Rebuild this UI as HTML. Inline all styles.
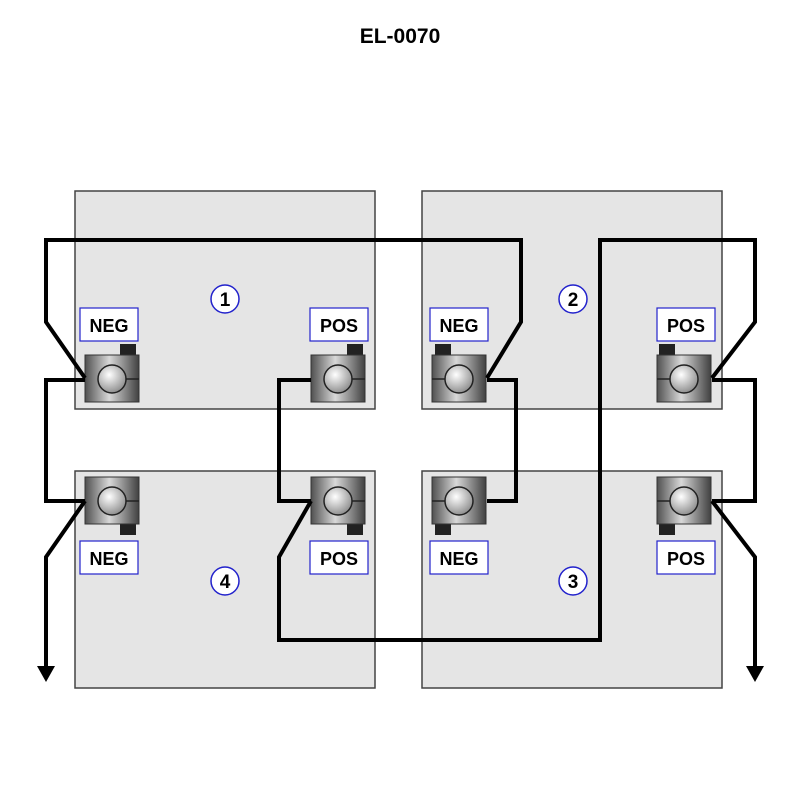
<!DOCTYPE html>
<html><head><style>body{margin:0;background:#fff}svg{display:block}</style></head><body>
<svg width="800" height="792" viewBox="0 0 800 792" xmlns="http://www.w3.org/2000/svg" font-family="Liberation Sans, Arial, sans-serif">
<defs>
<linearGradient id="tg" x1="0" x2="1" y1="0" y2="0">
<stop offset="0" stop-color="#505050"/><stop offset="0.45" stop-color="#d8d8d8"/><stop offset="1" stop-color="#404040"/>
</linearGradient>
<radialGradient id="bg" cx="0.4" cy="0.35" r="0.7">
<stop offset="0" stop-color="#ffffff"/><stop offset="1" stop-color="#888"/>
</radialGradient>
<g id="termR">
<rect x="0" y="0" width="54" height="47" fill="url(#tg)" stroke="#333" stroke-width="1"/>
<line x1="41" y1="24" x2="54" y2="24" stroke="#222" stroke-width="1.5"/>
<circle cx="27" cy="24" r="14" fill="url(#bg)" stroke="#222" stroke-width="1.5"/>
</g>
<g id="termL">
<rect x="0" y="0" width="54" height="47" fill="url(#tg)" stroke="#333" stroke-width="1"/>
<line x1="0" y1="24" x2="13" y2="24" stroke="#222" stroke-width="1.5"/>
<circle cx="27" cy="24" r="14" fill="url(#bg)" stroke="#222" stroke-width="1.5"/>
</g>
</defs>
<text x="400" y="43" text-anchor="middle" font-size="21" font-weight="bold">EL-0070</text>
<g fill="#e5e5e5" stroke="#444" stroke-width="1.5">
<rect x="75" y="191" width="300" height="218"/>
<rect x="422" y="191" width="300" height="218"/>
<rect x="75" y="471" width="300" height="217"/>
<rect x="422" y="471" width="300" height="217"/>
</g>
<g fill="#222">
<rect x="120" y="344" width="16" height="11"/><rect x="347" y="344" width="16" height="11"/>
<rect x="435" y="344" width="16" height="11"/><rect x="659" y="344" width="16" height="11"/>
<rect x="120" y="524" width="16" height="11"/><rect x="347" y="524" width="16" height="11"/>
<rect x="435" y="524" width="16" height="11"/><rect x="659" y="524" width="16" height="11"/>
</g>
<use href="#termR" x="85" y="355"/><use href="#termR" x="311" y="355"/>
<use href="#termL" x="432" y="355"/><use href="#termL" x="657" y="355"/>
<use href="#termR" x="85" y="477"/><use href="#termR" x="311" y="477"/>
<use href="#termL" x="432" y="477"/><use href="#termL" x="657" y="477"/>
<g fill="#fff" stroke="#2222cc" stroke-width="1.2">
<rect x="80" y="308" width="58" height="33"/><rect x="310" y="308" width="58" height="33"/>
<rect x="430" y="308" width="58" height="33"/><rect x="657" y="308" width="58" height="33"/>
<rect x="80" y="541" width="58" height="33"/><rect x="310" y="541" width="58" height="33"/>
<rect x="430" y="541" width="58" height="33"/><rect x="657" y="541" width="58" height="33"/>
</g>
<g font-size="18" font-weight="bold" text-anchor="middle">
<text x="109" y="332">NEG</text><text x="339" y="332">POS</text>
<text x="459" y="332">NEG</text><text x="686" y="332">POS</text>
<text x="109" y="565">NEG</text><text x="339" y="565">POS</text>
<text x="459" y="565">NEG</text><text x="686" y="565">POS</text>
</g>
<g fill="#fff" stroke="#2222cc" stroke-width="1.5">
<circle cx="225" cy="299" r="14"/><circle cx="573" cy="299" r="14"/>
<circle cx="225" cy="581" r="14"/><circle cx="573" cy="581" r="14"/>
</g>
<g font-size="19" font-weight="bold" text-anchor="middle">
<text x="225" y="306">1</text><text x="573" y="306">2</text>
<text x="225" y="588">4</text><text x="573" y="588">3</text>
</g>
<g fill="none" stroke="#000" stroke-width="4" stroke-linejoin="miter">
<polyline points="85,378 46,322 46,240 521,240 521,322 487,378"/>
<polyline points="85,380 46,380 46,501 85,501"/>
<polyline points="85,501 46,557 46,668"/>
<polyline points="311,380 279,380 279,501 311,501"/>
<polyline points="311,501 279,557 279,640 600,640 600,240 755,240 755,322 712,378"/>
<polyline points="487,380 516,380 516,501 487,501"/>
<polyline points="712,380 755,380 755,501 712,501"/>
<polyline points="712,501 755,557 755,668"/>
</g>
<polygon points="37,666 55,666 46,682" fill="#000"/>
<polygon points="746,666 764,666 755,682" fill="#000"/>
</svg>
</body></html>
